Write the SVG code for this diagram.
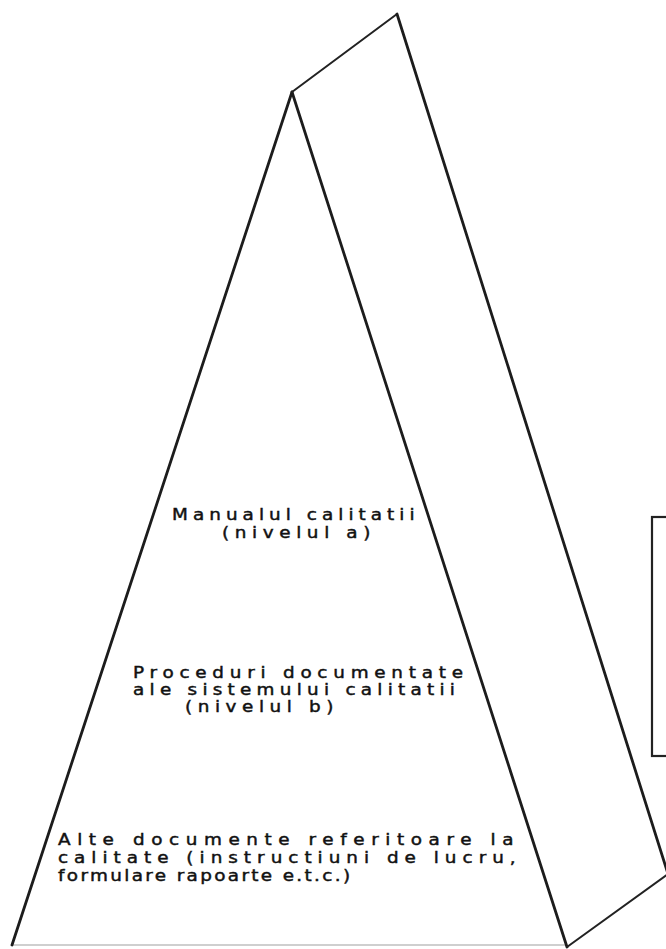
<svg xmlns="http://www.w3.org/2000/svg" width="666" height="949" viewBox="0 0 666 949">
  <style>
    .edge { fill: none; stroke: #1c1c1c; stroke-width: 2.8; stroke-linecap: round; stroke-linejoin: round; }
    .thin { fill: none; stroke: #222; stroke-width: 2; stroke-linecap: round; }
    .base { fill: none; stroke: #cfcfcf; stroke-width: 2; }
    .lbl { font-family: "DejaVu Sans", "Verdana", sans-serif; font-size: 16px; fill: #111; stroke: #111; stroke-width: 0.45; }
  </style>
  <rect x="0" y="0" width="666" height="949" fill="#ffffff"/>
  <g id="connectors">
    <line class="base" x1="12" y1="945" x2="567" y2="945"/>
    <line class="edge" x1="12" y1="945" x2="292" y2="92"/>
    <line class="edge" x1="292" y1="92" x2="567" y2="947"/>
    <line class="thin" x1="292" y1="92" x2="397" y2="14"/>
    <line class="edge" x1="397" y1="14" x2="668" y2="874"/>
    <line class="thin" x1="567" y1="947" x2="668" y2="874"/>
  </g>
  <g id="box">
    <rect x="652" y="517" width="40" height="239" fill="none" stroke="#222" stroke-width="2.2"/>
  </g>
  <g id="level-a">
    <text class="lbl" transform="translate(172,520) scale(1.15,1)" textLength="211" lengthAdjust="spacing">Manualul calitatii</text>
    <text class="lbl" transform="translate(222,538) scale(1.15,1)" textLength="129" lengthAdjust="spacing">(nivelul a)</text>
  </g>
  <g id="level-b">
    <text class="lbl" transform="translate(133,678) scale(1.15,1)" textLength="287" lengthAdjust="spacing">Proceduri documentate</text>
    <text class="lbl" transform="translate(133,695) scale(1.15,1)" textLength="280" lengthAdjust="spacing">ale sistemului calitatii</text>
    <text class="lbl" transform="translate(185,712) scale(1.15,1)" textLength="129" lengthAdjust="spacing">(nivelul b)</text>
  </g>
  <g id="level-c">
    <text class="lbl" transform="translate(58,845) scale(1.15,1)" textLength="396" lengthAdjust="spacing">Alte documente referitoare la</text>
    <text class="lbl" transform="translate(58,863) scale(1.15,1)" textLength="398" lengthAdjust="spacing">calitate (instructiuni de lucru,</text>
    <text class="lbl" transform="translate(58,881) scale(1.15,1)" textLength="254" lengthAdjust="spacing">formulare rapoarte e.t.c.)</text>
  </g>
</svg>
